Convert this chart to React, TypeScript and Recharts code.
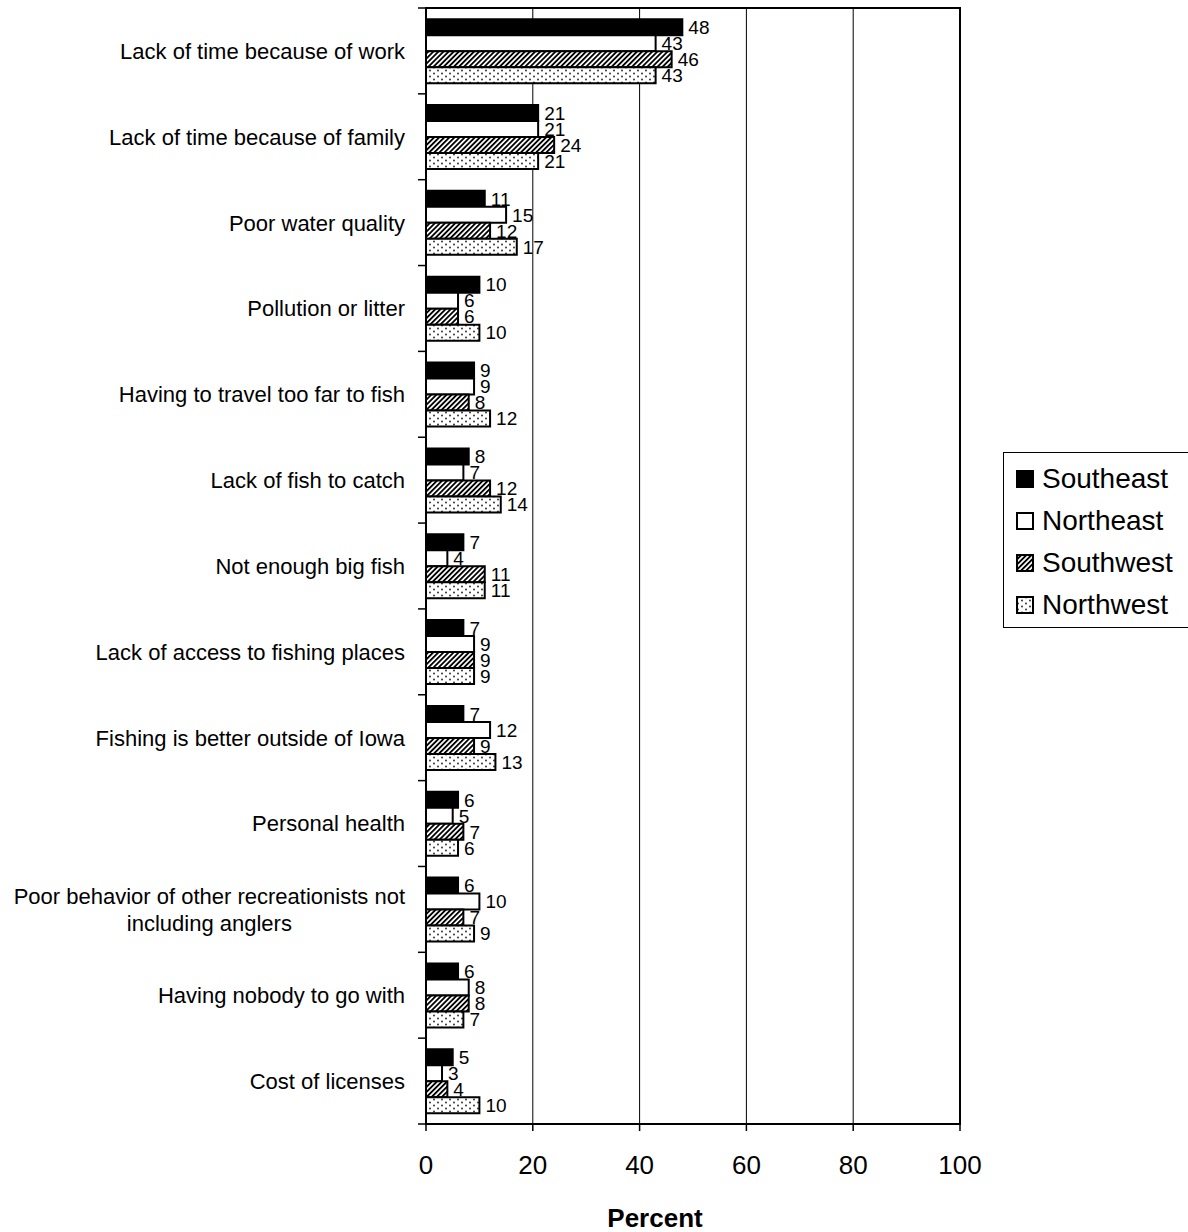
import {
  Bar,
  BarChart,
  CartesianGrid,
  LabelList,
  Legend,
  ReferenceArea,
  XAxis,
  YAxis,
} from "recharts";

const CATEGORIES = [
  "Lack of time because of work",
  "Lack of time because of family",
  "Poor water quality",
  "Pollution or litter",
  "Having to travel too far to fish",
  "Lack of fish to catch",
  "Not enough big fish",
  "Lack of access to fishing places",
  "Fishing is better outside of Iowa",
  "Personal health",
  "Poor behavior of other recreationists not including anglers",
  "Having nobody to go with",
  "Cost of licenses",
];

const SOUTHEAST = [48, 21, 11, 10, 9, 8, 7, 7, 7, 6, 6, 6, 5];
const NORTHEAST = [43, 21, 15, 6, 9, 7, 4, 9, 12, 5, 10, 8, 3];
const SOUTHWEST = [46, 24, 12, 6, 8, 12, 11, 9, 9, 7, 7, 8, 4];
const NORTHWEST = [43, 21, 17, 10, 12, 14, 11, 9, 13, 6, 9, 7, 10];

const X_TICKS = [0, 20, 40, 60, 80, 100];

const SERIES = [
  { key: "southeast", name: "Southeast", fill: "#000" },
  { key: "northeast", name: "Northeast", fill: "#fff" },
  { key: "southwest", name: "Southwest", fill: "url(#hatch)" },
  { key: "northwest", name: "Northwest", fill: "url(#dots)" },
];

const data = CATEGORIES.map((name, i) => ({
  name,
  southeast: SOUTHEAST[i],
  northeast: NORTHEAST[i],
  southwest: SOUTHWEST[i],
  northwest: NORTHWEST[i],
}));

const W = 1188;
const H = 1232;
const MARGIN = { top: 8, right: 228, bottom: 0, left: 0 };
const X_AXIS_H = 108;
const Y_AXIS_W = 426;
const PLOT_H = H - MARGIN.top - MARGIN.bottom - X_AXIS_H;
const FONT = "'Liberation Sans', Arial, sans-serif";

function textWidth(s: string, size: number) {
  const ctx = document.createElement("canvas").getContext("2d");
  if (!ctx) return s.length * size * 0.5;
  ctx.font = `${size}px ${FONT}`;
  return ctx.measureText(s).width;
}

function wrap(label: string) {
  if (label.length <= 42) return [label];
  const cut = label.lastIndexOf(" ", 42);
  return [label.slice(0, cut), label.slice(cut + 1)];
}

function CategoryTick(props: any) {
  const { x, y, payload, index } = props;
  const band = PLOT_H / CATEGORIES.length;
  const lines = wrap(String(payload.value));
  const lx = x + 13;
  return (
    <g>
      <line x1={lx} x2={lx + 8} y1={y - band / 2} y2={y - band / 2} stroke="#000" strokeWidth={1.5} />
      {index === CATEGORIES.length - 1 && (
        <line x1={lx} x2={lx + 8} y1={y + band / 2} y2={y + band / 2} stroke="#000" strokeWidth={1.5} />
      )}
      {lines.length === 1 ? (
        <text x={x} y={y} dy="0.36em" textAnchor="end" fontSize={22} fontFamily={FONT} fill="#000">
          {lines[0]}
        </text>
      ) : (
        <>
          <text x={x} y={y - 13.5} dy="0.36em" textAnchor="end" fontSize={22} fontFamily={FONT} fill="#000">
            {lines[0]}
          </text>
          <text
            x={x - textWidth(lines[0], 22) / 2}
            y={y + 13.5}
            dy="0.36em"
            textAnchor="middle"
            fontSize={22}
            fontFamily={FONT}
            fill="#000"
          >
            {lines[1]}
          </text>
        </>
      )}
    </g>
  );
}

function LegendBox() {
  return (
    <div
      style={{
        border: "1.5px solid #000",
        background: "#fff",
        padding: "5px 0 1px 12px",
        fontFamily: FONT,
        fontSize: 28,
        color: "#000",
        width: 190,
        boxSizing: "border-box",
      }}
    >
      {SERIES.map((s) => (
        <div key={s.key} style={{ display: "flex", alignItems: "center", height: 42 }}>
          <svg width={18} height={18} style={{ marginRight: 8, flexShrink: 0 }}>
            <rect x={1} y={1} width={16} height={16} fill={s.fill} stroke="#000" strokeWidth={2} />
          </svg>
          <span>{s.name}</span>
        </div>
      ))}
    </div>
  );
}

export default function App() {
  return (
    <div style={{ position: "absolute", left: 0, top: 0, width: W, height: H, background: "#fff" }}>
      <svg width={0} height={0} style={{ position: "absolute" }}>
        <defs>
          <pattern id="hatch" patternUnits="userSpaceOnUse" width={3.6} height={3.6} patternTransform="rotate(45)">
            <rect width={3.6} height={3.6} fill="#fff" />
            <line x1={0.9} y1={0} x2={0.9} y2={3.6} stroke="#000" strokeWidth={1.9} />
          </pattern>
          <pattern id="dots" patternUnits="userSpaceOnUse" width={8} height={6}>
            <rect width={8} height={6} fill="#fff" />
            <circle cx={2} cy={1.5} r={1} fill="#333" />
            <circle cx={6} cy={4.5} r={1} fill="#333" />
          </pattern>
        </defs>
      </svg>
      <BarChart
        width={W}
        height={H}
        data={data}
        layout="vertical"
        margin={MARGIN}
        barCategoryGap="13%"
        barGap={0}
      >
        <CartesianGrid vertical horizontal={false} stroke="#000" strokeWidth={1} />
        <XAxis
          type="number"
          domain={[0, 100]}
          ticks={X_TICKS}
          height={X_AXIS_H}
          axisLine={{ stroke: "#000", strokeWidth: 2 }}
          tickLine={{ stroke: "#000", strokeWidth: 1.5 }}
          tickSize={7}
          tickMargin={25}
          tick={{ fontSize: 26, fill: "#000", fontFamily: FONT }}
          label={{
            value: "Percent",
            position: "insideBottom",
            offset: 5,
            dx: -38,
            fontSize: 26,
            fontWeight: "bold",
            fill: "#000",
            fontFamily: FONT,
          }}
        />
        <YAxis
          type="category"
          dataKey="name"
          width={Y_AXIS_W}
          axisLine={{ stroke: "#000", strokeWidth: 2 }}
          tickLine={false}
          tickSize={8}
          tickMargin={13}
          interval={0}
          tick={<CategoryTick />}
        />
        <ReferenceArea x1={0} x2={100} fill="none" stroke="#000" strokeWidth={2} ifOverflow="visible" />
        {SERIES.map((s) => (
          <Bar
            key={s.key}
            dataKey={s.key}
            name={s.name}
            fill={s.fill}
            stroke="#000"
            strokeWidth={2}
            isAnimationActive={false}
          >
            <LabelList
              dataKey={s.key}
              position="right"
              offset={6}
              fill="#000"
              fontSize={19}
              fontFamily={FONT}
            />
          </Bar>
        ))}
        <Legend
          layout="vertical"
          align="center"
          verticalAlign="middle"
          wrapperStyle={{ left: 1003, top: 452, width: 190 }}
          content={() => <LegendBox />}
        />
      </BarChart>
    </div>
  );
}
